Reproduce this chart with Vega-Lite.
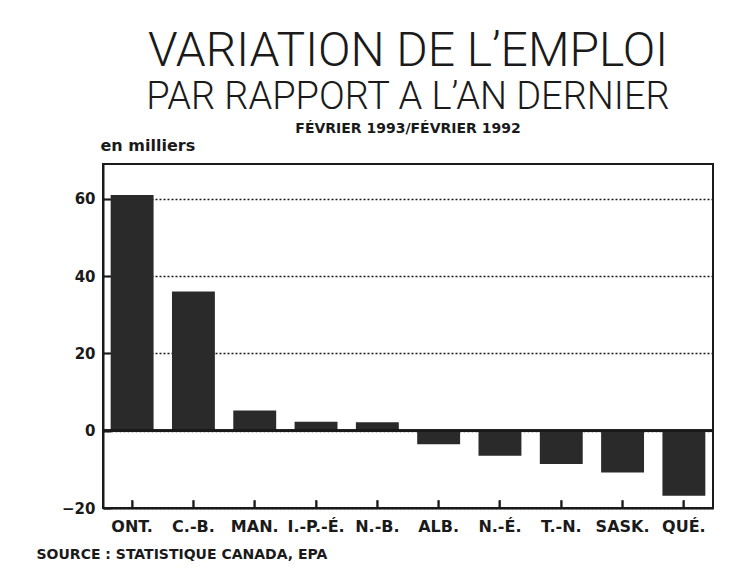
{
  "$schema": "https://vega.github.io/schema/vega-lite/v6.json",
  "background": "white",
  "padding": {"left": 35, "top": 28, "right": 18, "bottom": 5},
  "title": {
    "text": "VARIATION DE L’EMPLOI",
    "font": "Roboto",
    "fontWeight": 300,
    "fontSize": 48,
    "color": "#1a1a1a",
    "anchor": "middle",
    "dx": 33,
    "offset": 2
  },
  "config": {
    "view": {"stroke": "#1a1a1a", "strokeWidth": 2},
    "concat": {"spacing": 0}
  },
  "vconcat": [
    {
      "title": {
        "text": "PAR RAPPORT A L’AN DERNIER",
        "subtitle": "FÉVRIER 1993/FÉVRIER 1992",
        "font": "Roboto",
        "fontWeight": 300,
        "fontSize": 38,
        "color": "#1a1a1a",
        "subtitleFont": "DejaVu Sans",
        "subtitleFontWeight": "bold",
        "subtitleFontSize": 14,
        "subtitleColor": "#1a1a1a",
        "subtitlePadding": 5,
        "anchor": "middle",
        "offset": 1
      },
      "width": 610,
      "height": 344,
      "data": {
        "values": [
          {"prov": "ONT.", "v": 61},
          {"prov": "C.-B.", "v": 36},
          {"prov": "MAN.", "v": 5.2},
          {"prov": "I.-P.-É.", "v": 2.3},
          {"prov": "N.-B.", "v": 2.2},
          {"prov": "ALB.", "v": -3.5},
          {"prov": "N.-É.", "v": -6.5},
          {"prov": "T.-N.", "v": -8.6},
          {"prov": "SASK.", "v": -10.8},
          {"prov": "QUÉ.", "v": -16.8}
        ]
      },
      "layer": [
        {
          "mark": {"type": "bar", "color": "#2a2a2a"},
          "encoding": {
            "x": {
              "field": "prov",
              "type": "nominal",
              "sort": null,
              "scale": {"paddingInner": 0.3, "paddingOuter": 0.125},
              "axis": {
                "title": "SOURCE : STATISTIQUE CANADA, EPA",
                "titleFont": "DejaVu Sans",
                "titleFontWeight": "bold",
                "titleFontSize": 14,
                "titleColor": "#1a1a1a",
                "titleAnchor": "start",
                "titleAlign": "left",
                "titleBaseline": "alphabetic",
                "titleX": -67,
                "titleY": 50,
                "labelAngle": 0,
                "labelFont": "DejaVu Sans",
                "labelFontWeight": "bold",
                "labelFontSize": 16,
                "labelColor": "#1a1a1a",
                "labelPadding": 18,
                "tickSize": -8,
                "tickColor": "#1a1a1a",
                "tickWidth": 2,
                "domainColor": "#1a1a1a",
                "domainWidth": 2,
                "zindex": 1
              }
            },
            "y": {
              "field": "v",
              "type": "quantitative",
              "scale": {"domain": [-20, 69], "nice": false, "zero": false},
              "axis": {
                "values": [-20, 0, 20, 40, 60],
                "title": "en milliers",
                "titleFont": "DejaVu Sans",
                "titleFontWeight": "bold",
                "titleFontSize": 16,
                "titleColor": "#1a1a1a",
                "titleAngle": 0,
                "titleAlign": "left",
                "titleBaseline": "alphabetic",
                "titleX": -3,
                "titleY": -14,
                "labelFont": "DejaVu Sans",
                "labelFontWeight": "bold",
                "labelFontSize": 15,
                "labelColor": "#1a1a1a",
                "labelPadding": 16,
                "tickSize": -8,
                "tickColor": "#1a1a1a",
                "tickWidth": 2,
                "domainColor": "#1a1a1a",
                "domainWidth": 2,
                "grid": true,
                "gridColor": "#1a1a1a",
                "gridDash": [2, 2],
                "gridWidth": 1.5
              }
            }
          }
        },
        {
          "mark": {"type": "rule", "color": "#1a1a1a", "strokeWidth": 2},
          "encoding": {"y": {"datum": 0}}
        },
        {
          "mark": {"type": "tick", "orient": "vertical", "size": 8, "thickness": 2, "yOffset": -4, "color": "#1a1a1a"},
          "encoding": {
            "x": {"field": "prov", "type": "nominal", "sort": null},
            "y": {"datum": -20}
          }
        }
      ]
    }
  ]
}
